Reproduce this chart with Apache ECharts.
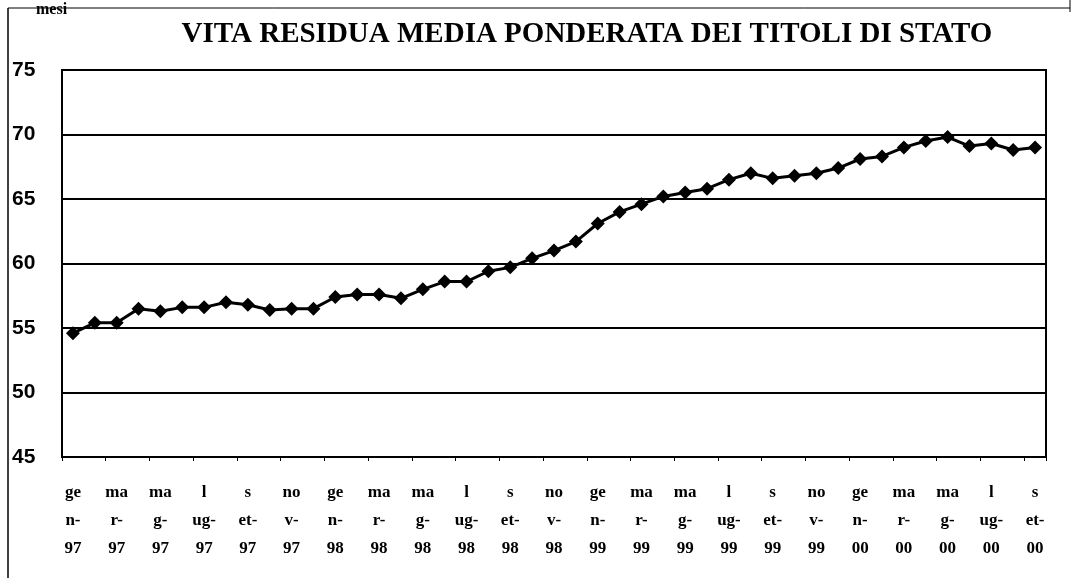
<!DOCTYPE html>
<html><head><meta charset="utf-8">
<script src="https://cdn.jsdelivr.net/npm/echarts@6/dist/echarts.min.js"></script>
<style>html,body{margin:0;padding:0;background:#fff}#c{width:1074px;height:578px}</style>
</head><body><div id="c"></div>
<script>
const categories = [
 'gen-97','feb-97','mar-97','apr-97','mag-97','giu-97','lug-97','ago-97','set-97','ott-97','nov-97','dic-97',
 'gen-98','feb-98','mar-98','apr-98','mag-98','giu-98','lug-98','ago-98','set-98','ott-98','nov-98','dic-98',
 'gen-99','feb-99','mar-99','apr-99','mag-99','giu-99','lug-99','ago-99','set-99','ott-99','nov-99','dic-99',
 'gen-00','feb-00','mar-00','apr-00','mag-00','giu-00','lug-00','ago-00','set-00'];
const values = [
 54.6,55.4,55.4,56.5,56.3,56.6,56.6,57.0,56.8,56.4,56.5,56.5,
 57.4,57.6,57.6,57.3,58.0,58.6,58.6,59.4,59.7,60.4,61.0,61.7,
 63.1,64.0,64.6,65.2,65.5,65.8,66.5,67.0,66.6,66.8,67.0,67.4,
 68.1,68.3,69.0,69.5,69.8,69.1,69.3,68.8,69.0];
const yTicks = [45,50,55,60,65,70,75];
const monthWrap = {gen:['ge','n-'],mar:['ma','r-'],mag:['ma','g-'],lug:['l','ug-'],set:['s','et-'],nov:['no','v-']};
const titleText = 'VITA RESIDUA MEDIA PONDERATA DEI TITOLI DI STATO';
const unitText = 'mesi';

const chart = echarts.init(document.getElementById('c'));
chart.setOption({
  animation:false,
  backgroundColor:'#fff',
  title:{text:titleText,left:582,top:15,textAlign:'center',
    textStyle:{fontFamily:'Liberation Serif',fontWeight:'bold',fontSize:29,color:'#000'}},
  graphic:[
    {type:'text',left:36,top:2,style:{text:unitText,fontFamily:'Liberation Serif',fontWeight:'bold',fontSize:16,fill:'#000'}},
    {type:'line',shape:{x1:8,y1:8,x2:1070,y2:8},style:{stroke:'#000',lineWidth:1}},
    {type:'line',shape:{x1:8,y1:8,x2:8,y2:578},style:{stroke:'#000',lineWidth:1.5}},
    {type:'line',shape:{x1:1070,y1:0,x2:1070,y2:12},style:{stroke:'#000',lineWidth:1}}
  ],
  grid:{left:62,right:28,top:70,bottom:121,show:true,borderColor:'#000',borderWidth:2,backgroundColor:'#fff'},
  xAxis:{type:'category',data:categories,boundaryGap:true,
    axisLine:{show:true,lineStyle:{color:'#000',width:2}},
    axisTick:{show:true,interval:1,length:4,lineStyle:{color:'#000',width:1}},
    axisLabel:{interval:1,margin:22,lineHeight:28,fontFamily:'Liberation Serif',fontWeight:'bold',fontSize:17,color:'#000',
      formatter:function(v){const p=v.split('-');const w=monthWrap[p[0]]||[p[0],'-'];return w[0]+'\n'+w[1]+'\n'+p[1];}}},
  yAxis:{type:'value',min:yTicks[0],max:yTicks[yTicks.length-1],interval:5,
    axisLine:{show:true,lineStyle:{color:'#000',width:2}},
    axisTick:{show:false},
    splitLine:{show:true,lineStyle:{color:'#000',width:2}},
    axisLabel:{align:'left',margin:50,fontFamily:'Liberation Sans',fontWeight:'bold',fontSize:21,color:'#000'}},
  series:[{type:'line',data:values,symbol:'diamond',symbolSize:14,
    lineStyle:{color:'#000',width:3},itemStyle:{color:'#000'}}]
});
</script></body></html>
